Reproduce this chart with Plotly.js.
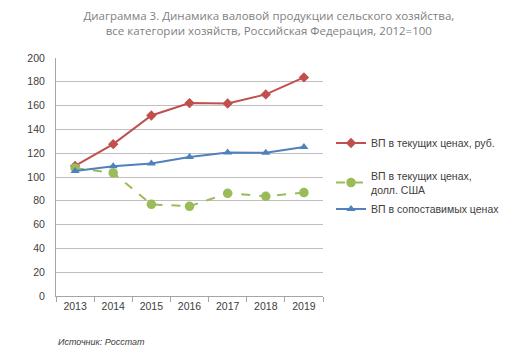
<!DOCTYPE html>
<html><head><meta charset="utf-8">
<script src="https://cdn.plot.ly/plotly-3.0.1.min.js"></script>
<style>html,body{margin:0;padding:0;background:#fff}</style>
</head><body>
<div id="chart" style="width:520px;height:359px"></div>
<script>
const years = ['2013','2014','2015','2016','2017','2018','2019'];
const rubCurrent = [109.3, 127.6, 151.7, 162.1, 161.8, 169.4, 183.7];
const usdCurrent = [107.6, 103.4, 77.0, 75.4, 86.3, 83.8, 86.9];
const comparable = [105.1, 109.0, 111.3, 116.9, 120.6, 120.3, 125.3];
const names = ['ВП в текущих ценах, руб.', 'ВП в текущих ценах,<br>долл. США', 'ВП в сопоставимых ценах'];
const titleText = 'Диаграмма 3. Динамика валовой продукции сельского хозяйства,<br>все категории хозяйств, Российская Федерация, 2012=100';
const sourceText = 'Источник: Росстат';

const traces = [
  {x: years, y: rubCurrent, name: names[0], type: 'scatter', mode: 'lines+markers', legend: 'legend',
   line: {color: '#C0504D', width: 2}, marker: {symbol: 'diamond', size: 8, color: '#C0504D'}},
  {x: years, y: usdCurrent, name: names[1], type: 'scatter', mode: 'lines+markers', legend: 'legend2',
   line: {color: '#9BBB59', width: 2, dash: 'dash'}, marker: {symbol: 'circle', size: 9.5, color: '#9BBB59'}},
  {x: years, y: comparable, name: names[2], type: 'scatter', mode: 'lines+markers', legend: 'legend3',
   line: {color: '#4F81BD', width: 2}, marker: {symbol: 'triangle-up', size: 8, color: '#4F81BD'}}
];

const legBase = {x: 1.03, xanchor: 'left', yanchor: 'middle', bgcolor: 'rgba(0,0,0,0)',
                 font: {size: 10.5, color: '#404040', family: 'Liberation Sans, Arial, sans-serif'}, itemwidth: 30};

const layout = {
  width: 520, height: 359,
  margin: {l: 56, r: 197, t: 58, b: 63},
  paper_bgcolor: '#fff', plot_bgcolor: '#fff',
  font: {family: 'Liberation Sans, Arial, sans-serif', size: 10.5, color: '#404040'},
  title: {text: titleText, x: 0.517, xanchor: 'center', y: 0.945, yanchor: 'top',
          font: {family: 'Open Sans, sans-serif', size: 11.5, color: '#7f7f7f'}},
  xaxis: {type: 'category', range: [-0.5, 6.5], showgrid: false, zeroline: false,
          showline: true, linecolor: '#A6A6A6', linewidth: 1,
          ticks: 'outside', ticklen: 5, tickcolor: '#A6A6A6', tickson: 'boundaries',
          tickfont: {size: 10.5, color: '#404040'}, fixedrange: true},
  yaxis: {range: [0, 200], dtick: 20, showgrid: true, gridcolor: '#BFBFBF', gridwidth: 1,
          zeroline: false, showline: true, linecolor: '#A6A6A6', linewidth: 1,
          ticks: '', tickfont: {size: 10.5, color: '#404040'}, ticklabelstandoff: 8, fixedrange: true},
  showlegend: true,
  legend: Object.assign({}, legBase, {y: 0.643}),
  legend2: Object.assign({}, legBase, {y: 0.475}),
  legend3: Object.assign({}, legBase, {y: 0.366}),
  annotations: [{text: '<i>' + sourceText + '</i>', xref: 'paper', yref: 'paper', x: 0, y: -0.193,
                 xanchor: 'left', yanchor: 'middle', showarrow: false,
                 font: {size: 9, color: '#404040'}}]
};
Plotly.newPlot('chart', traces, layout, {displayModeBar: false, staticPlot: true});
</script>
</body></html>
